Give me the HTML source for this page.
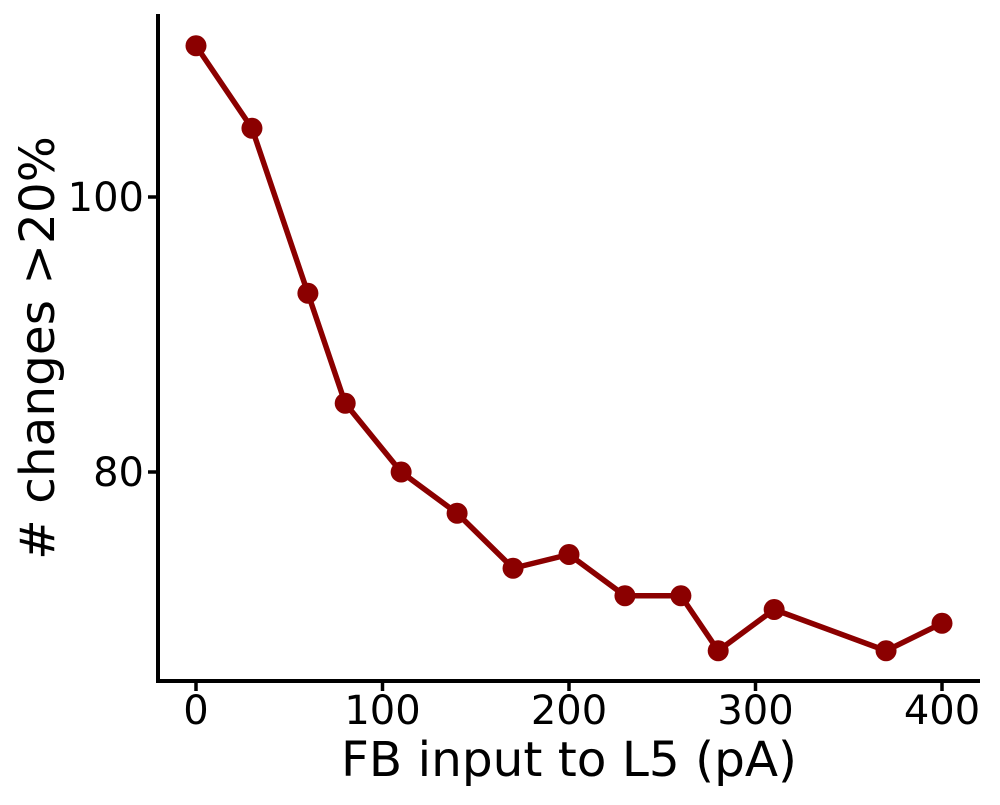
<!DOCTYPE html>
<html><head><meta charset="utf-8"><style>
body{margin:0;background:#fff}
svg text{font-family:"DejaVu Sans","Liberation Sans",sans-serif;fill:#000}
</style></head><body>
<svg id="chart" width="1000" height="800"></svg>
<script>
const xValues=[0,30,60,80,110,140,170,200,230,260,280,310,370,400];
const yValues=[111,105,93,85,80,77,73,74,71,71,67,70,67,69];
const xTicks=[0,100,200,300,400];
const yTicks=[80,100];
const NS="http://www.w3.org/2000/svg";
const svg=document.getElementById('chart');
const xs=v=>196+(v-0)*(942-196)/400;
const ys=v=>472-(v-80)*(472-197)/20;
function el(t,a){const e=document.createElementNS(NS,t);for(const k in a)e.setAttribute(k,a[k]);svg.appendChild(e);return e;}
let e;
e=el('line',{x1:158,y1:14,x2:158,y2:683,stroke:'#000','stroke-width':4});


e=el('line',{x1:156,y1:681,x2:980,y2:681,stroke:'#000','stroke-width':4});


xTicks.forEach(v=>{
 e=el('line',{x1:xs(v),y1:681,x2:xs(v),y2:691,stroke:'#000','stroke-width':3.5});
 
 
 e=el('text',{x:xs(v),y:724,'text-anchor':'middle','font-size':40});e.textContent=v;
 
 
});
yTicks.forEach(v=>{
 e=el('line',{x1:148,y1:ys(v),x2:158,y2:ys(v),stroke:'#000','stroke-width':3.5});
 
 
 e=el('text',{x:144,y:ys(v)+14,'text-anchor':'end','font-size':40});e.textContent=v;
 
 
});
e=el('text',{x:569,y:776,'text-anchor':'middle','font-size':48.5});e.textContent='FB input to L5 (pA)';


e=el('text',{x:0,y:0,'text-anchor':'middle','font-size':48.5,transform:'translate(54,348) rotate(-90)'});e.textContent='# changes >20%';


e=el('polyline',{points:xValues.map((x,i)=>xs(x)+','+ys(yValues[i])).join(' '),fill:'none',stroke:'#8b0000','stroke-width':5.5,'stroke-linejoin':'round'});


xValues.forEach((x,i)=>{
 e=el('circle',{cx:xs(x),cy:ys(yValues[i]),r:10.5,fill:'#8b0000'});
 
 
});
</script>
</body></html>
